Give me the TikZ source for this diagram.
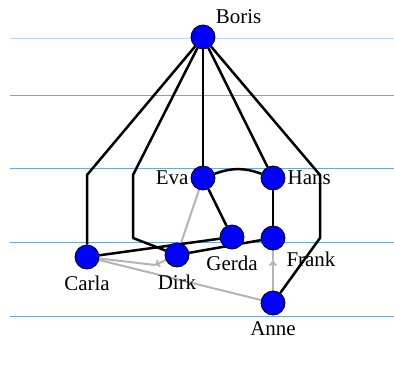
\documentclass[tikz,border=0pt]{standalone}
\usepackage{fontspec}
\setmainfont{Liberation Serif}
\usetikzlibrary{arrows.meta,backgrounds}
\definecolor{nodeblue}{HTML}{0000FF}
\definecolor{layerblue}{HTML}{6DA6EA}
\definecolor{backgray}{HTML}{B4B4B4}

\tikzset{
  person/.style={circle, draw=black, line width=0.8pt, fill=nodeblue, minimum size=24pt, inner sep=0pt},
  tree/.style={line width=2.5pt, line join=round},
  back/.style={line width=2pt, backgray},
  layer/.style={line width=1pt, layerblue},
  namelabel/.style={font=\fontsize{21}{25}\selectfont, inner sep=1pt}
}

\begin{document}
\begin{tikzpicture}[x=1pt, y=-1pt]
\useasboundingbox (0,0) rectangle (394,388);

% people
\node[person, label={[namelabel, label distance=4pt]above right:Boris}] (Boris) at (203,37) {};
\node[person, label={[namelabel, label distance=1pt]left:Eva}] (Eva) at (203,178) {};
\node[person, label={[namelabel, label distance=1pt]right:Hans}] (Hans) at (273,178) {};
\node[person, label={[namelabel, label distance=5pt]below:Gerda}] (Gerda) at (232,237) {};
\node[person, label={[namelabel, label distance=5pt]below right:Frank}] (Frank) at (273,238) {};
\node[person, label={[namelabel, label distance=5pt]below:Carla}] (Carla) at (87,257) {};
\node[person, label={[namelabel, label distance=6pt]below:Dirk}] (Dirk) at (177,255) {};
\node[person, label={[namelabel, label distance=5pt]below:Anne}] (Anne) at (273,303) {};

% bend points of the long edges
\coordinate (bc) at (87,175);
\coordinate (bd1) at (133,175);
\coordinate (bd2) at (133,238);
\coordinate (ba1) at (320,175);
\coordinate (ba2) at (320,238);
\coordinate (dc) at (155,265);
\coordinate (af) at (273,260);

\begin{scope}[on background layer]
% layers
\draw[layer, layerblue!45] (10,38) -- (394,38);
\foreach \y in {95,168,242,316}
  \draw[layer] (10,\y) -- (394,\y);

% reversed edges
\draw[back] (Eva) -- (Dirk);
\draw[back] (Carla) -- (Anne);
\draw[back, -{To[length=5pt, width=8pt]}] (Dirk) -- (dc);
\draw[back] (dc) -- (Carla);
\draw[back, -{To[length=6pt, width=8pt]}] (Anne) -- (af);
\draw[back] (af) -- (Frank);

% tree edges
\draw[tree] (Boris) -- (bc) -- (Carla);
\draw[tree] (Boris) -- (bd1) -- (bd2) -- (Dirk);
\draw[tree] (Boris) -- (Eva);
\draw[tree] (Boris) -- (Hans);
\draw[tree] (Boris) -- (ba1) -- (ba2) -- (Anne);
\draw[tree] (Eva) to[bend left=20] (Hans);
\draw[tree] (Eva) -- (Gerda);
\draw[tree] (Hans) -- (Frank);
\draw[tree] (Carla) -- (Gerda);
\draw[tree] (Dirk) -- (Frank);
\end{scope}

\end{tikzpicture}
\end{document}
